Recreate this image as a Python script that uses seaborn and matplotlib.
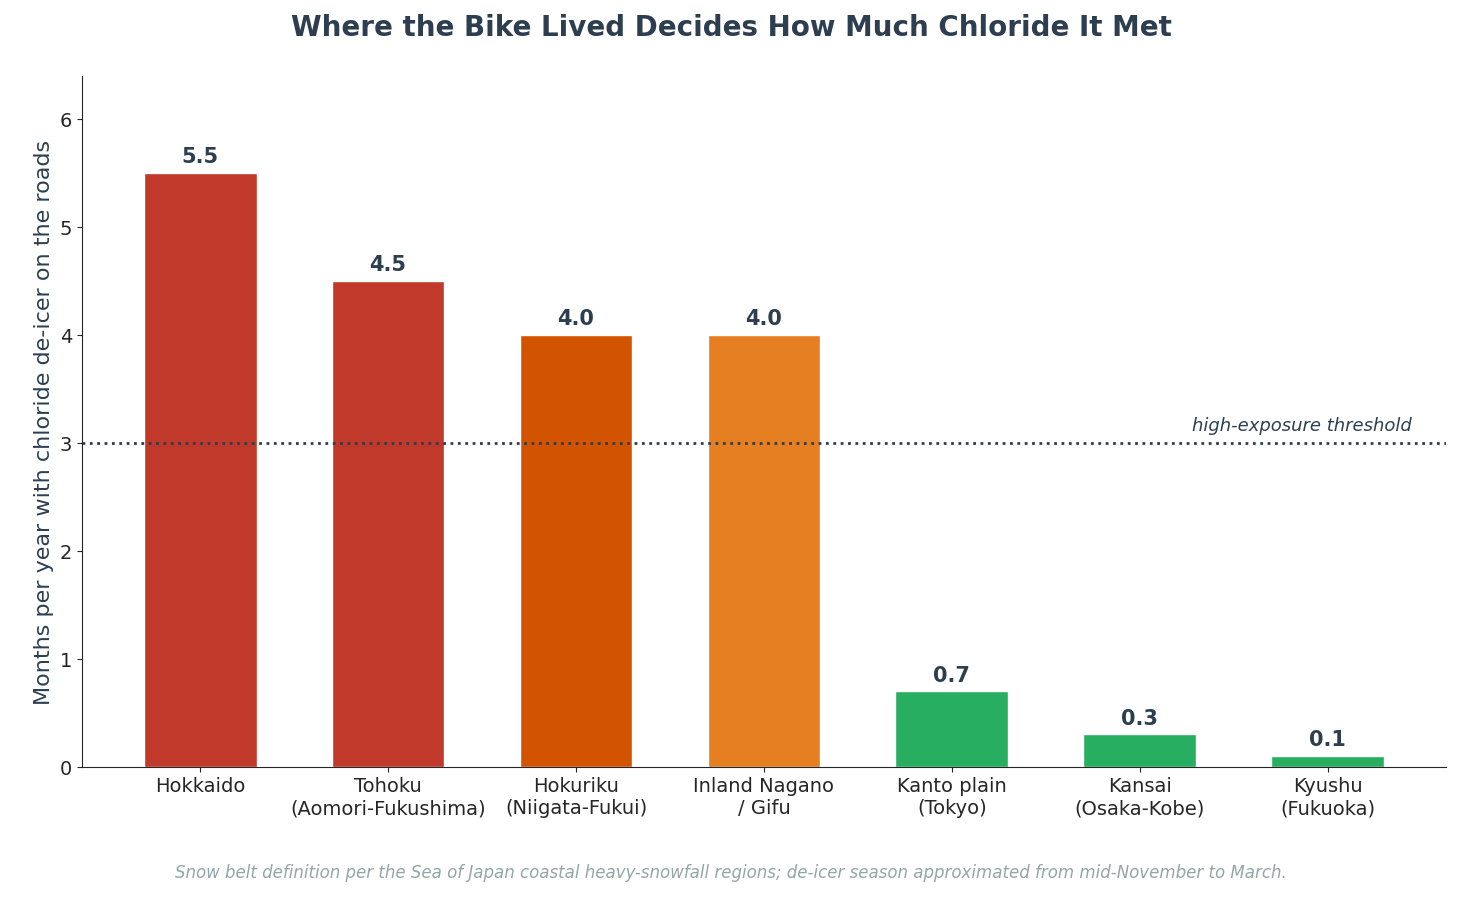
import matplotlib
matplotlib.use("Agg")
import matplotlib.pyplot as plt
import seaborn as sns
import pandas as pd

regions = ["Hokkaido", "Tohoku\n(Aomori-Fukushima)", "Hokuriku\n(Niigata-Fukui)",
           "Inland Nagano\n/ Gifu", "Kanto plain\n(Tokyo)", "Kansai\n(Osaka-Kobe)", "Kyushu\n(Fukuoka)"]
months = [5.5, 4.5, 4.0, 4.0, 0.7, 0.3, 0.1]
colors = ["#c0392b", "#c0392b", "#d35400", "#e67e22", "#27ae60", "#27ae60", "#27ae60"]
threshold = 3

sns.set_style("ticks")
fig = plt.figure(figsize=(14.62, 9.03), dpi=100)
ax = fig.add_axes([0.056, 0.15, 0.933, 0.765])
df = pd.DataFrame({"region": regions, "months": months})
sns.barplot(data=df, x="region", y="months", hue="region", palette=colors,
            legend=False, width=0.6, ax=ax, saturation=1)
for i, v in enumerate(months):
    ax.text(i, v + 0.06, f"{v:.1f}", ha="center", va="bottom", fontsize=15,
            fontweight="bold", color="#2c3e50")
ax.axhline(threshold, color="#2c3e50", linestyle=":", linewidth=2)
ax.text(6.45, threshold + 0.08, "high-exposure threshold", ha="right", va="bottom",
        fontsize=13, style="italic", color="#2c3e50")
ax.set_ylim(0, 6.4)
ax.set_xlim(-0.63, 6.63)
ax.set_xlabel("")
ax.set_ylabel("Months per year with chloride de-icer on the roads", fontsize=16, color="#2c3e50")
ax.tick_params(labelsize=14)
sns.despine(ax=ax)
fig.suptitle("Where the Bike Lived Decides How Much Chloride It Met", fontsize=20,
             fontweight="bold", color="#2c3e50", y=0.985)
fig.text(0.5, 0.028, "Snow belt definition per the Sea of Japan coastal heavy-snowfall regions; de-icer season approximated from mid-November to March.",
         ha="center", fontsize=12, style="italic", color="#95a5a6")
fig.savefig("out.png", dpi=100)
